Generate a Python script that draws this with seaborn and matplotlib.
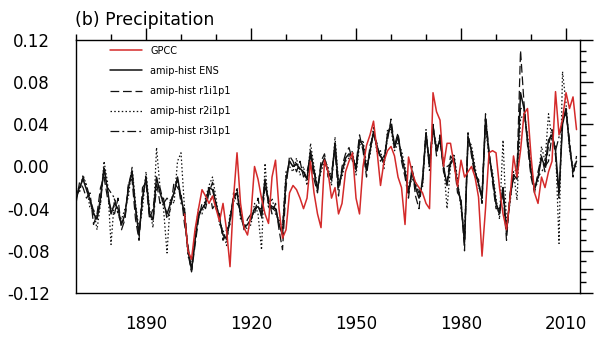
import numpy as np
import pandas as pd
import matplotlib
matplotlib.use("Agg")
import matplotlib.pyplot as plt
import seaborn as sns

# Annual precipitation anomalies (mm/day)
model_years = list(range(1870, 2014))
obs_years = list(range(1901, 2014))

ens = [
    -0.028, -0.020, -0.012, -0.022, -0.032, -0.045, -0.050, -0.030, -0.002, -0.022,
    -0.045, -0.035, -0.040, -0.055, -0.045, -0.020, -0.005, -0.040, -0.065, -0.030,
    -0.010, -0.045, -0.050, -0.010, -0.025, -0.035, -0.045, -0.035, -0.025, -0.010,
    -0.030, -0.045, -0.080, -0.098, -0.070, -0.045, -0.040, -0.035, -0.020, -0.022,
    -0.035, -0.050, -0.065, -0.068, -0.050, -0.030, -0.025, -0.045, -0.058, -0.055,
    -0.050, -0.040, -0.038, -0.045, -0.012, -0.035, -0.038, -0.040, -0.055, -0.065,
    -0.012, 0.005, 0.000, 0.002, -0.002, -0.005, -0.012, 0.015, -0.005, -0.022,
    0.000, 0.008, -0.005, -0.012, 0.022, -0.020, -0.005, 0.008, 0.012, 0.010,
    -0.003, 0.025, 0.020, -0.004, 0.015, 0.033, 0.018, 0.010, 0.004, 0.030,
    0.040, 0.018, 0.028, 0.010, -0.005, -0.025, -0.005, -0.020, -0.030, -0.015,
    0.032, 0.000, 0.038, 0.015, 0.026, 0.000, -0.018, 0.004, 0.008, -0.018,
    -0.035, -0.072, 0.028, 0.015, -0.005, -0.016, -0.030, 0.045, 0.012, -0.010,
    -0.035, -0.045, -0.020, -0.062, -0.030, -0.008, -0.012, 0.070, 0.055, 0.025,
    -0.005, -0.022, -0.010, 0.008, 0.000, 0.025, 0.030, 0.015, -0.025, 0.040,
    0.055, 0.020, -0.005, 0.005,
]

r1 = [
    -0.035, -0.015, -0.020, -0.030, -0.025, -0.055, -0.045, -0.020, -0.010, -0.030,
    -0.040, -0.045, -0.030, -0.060, -0.050, -0.015, -0.012, -0.050, -0.070, -0.020,
    -0.015, -0.050, -0.040, -0.015, -0.035, -0.030, -0.050, -0.040, -0.015, -0.020,
    -0.025, -0.055, -0.075, -0.100, -0.075, -0.050, -0.035, -0.040, -0.025, -0.015,
    -0.040, -0.045, -0.070, -0.060, -0.055, -0.025, -0.035, -0.040, -0.060, -0.050,
    -0.045, -0.045, -0.030, -0.050, -0.020, -0.030, -0.045, -0.035, -0.060, -0.079,
    -0.020, 0.010, 0.005, -0.005, 0.005, -0.010, -0.005, 0.010, -0.012, -0.025,
    0.005, 0.012, -0.010, -0.005, 0.015, -0.028, 0.000, 0.012, 0.018, 0.005,
    0.002, 0.030, 0.015, -0.010, 0.020, 0.030, 0.022, 0.005, 0.010, 0.025,
    0.045, 0.020, 0.032, 0.005, -0.010, -0.030, 0.000, -0.028, -0.040, -0.010,
    0.030, 0.005, 0.040, 0.010, 0.030, -0.005, -0.015, 0.010, 0.005, -0.025,
    -0.030, -0.080, 0.032, 0.010, -0.010, -0.012, -0.035, 0.050, 0.015, -0.015,
    -0.040, -0.040, -0.025, -0.070, -0.025, -0.012, -0.005, 0.110, 0.060, 0.020,
    -0.010, -0.025, -0.005, 0.010, -0.005, 0.020, 0.035, 0.010, -0.030, 0.045,
    0.050, 0.025, -0.010, 0.010,
]

r2 = [
    -0.020, -0.025, -0.008, -0.018, -0.040, -0.040, -0.060, -0.035, 0.005, -0.015,
    -0.074, -0.030, -0.045, -0.050, -0.040, -0.028, 0.000, -0.035, -0.060, -0.040,
    -0.005, -0.040, -0.058, 0.018, -0.020, -0.040, -0.082, -0.030, -0.035, 0.005,
    0.013, -0.040, -0.085, -0.095, -0.065, -0.040, -0.045, -0.030, -0.018, -0.010,
    -0.030, -0.055, -0.060, -0.075, -0.045, -0.035, -0.020, -0.050, -0.055, -0.060,
    -0.055, -0.035, -0.045, -0.079, 0.003, -0.040, -0.030, -0.045, -0.050, -0.060,
    -0.005, 0.000, -0.005, 0.008, -0.008, 0.000, -0.018, 0.022, 0.000, -0.020,
    -0.005, 0.005, 0.000, -0.018, 0.028, -0.015, -0.010, 0.005, 0.008, 0.015,
    -0.008, 0.020, 0.025, 0.002, 0.010, 0.038, 0.012, 0.015, -0.002, 0.035,
    0.035, 0.015, 0.022, 0.015, 0.000, -0.020, -0.012, -0.015, -0.025, -0.020,
    0.035, -0.005, 0.035, 0.020, 0.022, 0.005, -0.040, 0.000, 0.012, -0.012,
    -0.040, -0.065, 0.025, 0.020, 0.000, -0.020, -0.025, 0.040, 0.008, -0.005,
    -0.030, -0.050, 0.025, -0.055, -0.035, -0.005, -0.032, 0.045, 0.050, 0.030,
    0.000, -0.020, -0.015, 0.019, 0.005, 0.050, 0.025, 0.020, -0.073, 0.090,
    0.060, 0.015, 0.000, 0.000,
]

r3 = [
    -0.030, -0.022, -0.010, -0.018, -0.030, -0.042, -0.048, -0.035, 0.000, -0.020,
    -0.025, -0.030, -0.045, -0.055, -0.048, -0.018, -0.003, -0.038, -0.065, -0.030,
    -0.010, -0.045, -0.052, -0.020, -0.020, -0.035, -0.030, -0.035, -0.025, -0.012,
    -0.035, -0.040, -0.082, -0.100, -0.070, -0.048, -0.040, -0.035, -0.020, -0.040,
    -0.035, -0.050, -0.065, -0.070, -0.050, -0.030, -0.022, -0.045, -0.058, -0.055,
    -0.050, -0.040, -0.040, -0.040, -0.015, -0.035, -0.040, -0.040, -0.055, -0.058,
    -0.010, 0.005, 0.000, 0.003, -0.003, -0.005, -0.012, 0.012, -0.003, -0.020,
    0.000, 0.007, -0.005, -0.013, 0.022, -0.018, -0.005, 0.007, 0.010, 0.010,
    -0.002, 0.025, 0.020, -0.004, 0.015, 0.032, 0.020, 0.010, 0.004, 0.030,
    0.040, 0.018, 0.030, 0.010, -0.005, -0.025, -0.003, -0.018, -0.025, -0.015,
    0.030, 0.000, 0.038, 0.015, 0.026, 0.000, 0.000, 0.002, 0.008, -0.018,
    -0.035, -0.070, 0.028, 0.015, -0.005, -0.016, -0.030, 0.045, 0.012, -0.010,
    -0.035, -0.045, -0.020, -0.062, -0.030, -0.008, 0.000, 0.055, 0.055, 0.025,
    -0.005, -0.022, -0.010, -0.005, 0.000, 0.005, 0.030, 0.015, 0.028, 0.040,
    0.055, 0.020, -0.005, 0.005,
]

gpcc = [
    -0.045, -0.080, -0.088, -0.060, -0.040, -0.022, -0.028, -0.035, -0.028,
    -0.040, -0.052, -0.035, -0.060, -0.095, -0.030, 0.013, -0.035, -0.058, -0.065,
    -0.045, 0.000, -0.012, -0.030, -0.045, -0.054, -0.010, 0.006, -0.040, -0.068,
    -0.060, -0.025, -0.018, -0.022, -0.030, -0.040, -0.030, 0.005, -0.025, -0.045,
    -0.058, 0.006, -0.005, -0.030, -0.020, -0.045, -0.035, -0.005, 0.005, 0.013,
    -0.030, -0.045, 0.000, 0.020, 0.030, 0.043, 0.015, -0.018, 0.005, 0.015,
    0.019, 0.010, -0.010, -0.020, -0.055, 0.009, -0.005, -0.015, -0.020, -0.025,
    -0.035, -0.040, 0.070, 0.052, 0.044, 0.000, 0.022, 0.022, 0.002, -0.019,
    0.006, -0.010, -0.005, 0.000, -0.010, -0.029, -0.085, -0.040, 0.013, 0.015,
    0.013, -0.020, -0.045, -0.060, -0.030, 0.010, -0.010, 0.015, 0.050, 0.055,
    0.010, -0.025, -0.035, -0.010, -0.020, -0.005, 0.005, 0.071, 0.030, 0.045,
    0.070, 0.055, 0.066, 0.035,
]

series_labels = ["GPCC", "amip-hist ENS", "amip-hist r1i1p1",
                 "amip-hist r2i1p1", "amip-hist r3i1p1"]
y_ticks = [-0.12, -0.08, -0.04, 0.00, 0.04, 0.08, 0.12]
x_ticks = [1890, 1920, 1950, 1980, 2010]

sns.set_style("white")
plt.rcParams["font.family"] = ["DejaVu Sans"]
plt.rcParams["axes.unicode_minus"] = False
plt.rcParams["text.color"] = "black"

fig = plt.figure(figsize=(6.0, 3.38), dpi=100)
ax = fig.add_axes([0.1267, 0.1331, 0.8400, 0.7486])

black = "#111111"
red = "#d42a2a"
member_styles = [(0, (7, 3)), (0, (1.2, 1.8)), (0, (7, 2.5, 1.5, 2.5))]

for vals, lab, ls in zip([r1, r2, r3], series_labels[2:], member_styles):
    sns.lineplot(x=model_years, y=vals, ax=ax, color=black, lw=0.9,
                 linestyle=ls, label=lab, zorder=2)
sns.lineplot(x=model_years, y=ens, ax=ax, color=black, lw=1.1,
             label=series_labels[1], zorder=3)
sns.lineplot(x=obs_years, y=gpcc, ax=ax, color=red, lw=1.1,
             label=series_labels[0], zorder=4)

h, l = ax.get_legend_handles_labels()
lookup = dict(zip(l, h))
leg = ax.legend([lookup[s] for s in series_labels], series_labels,
                loc="upper left", bbox_to_anchor=(0.0675, 0.978), frameon=False,
                fontsize=7, handlelength=3.3, handletextpad=0.85,
                labelspacing=1.05, borderpad=0, borderaxespad=0)
for t in leg.get_texts():
    t.set_color("black")

ax.set_xlim(1870, 2014)
ax.set_ylim(-0.12, 0.12)
ax.set_xticks(x_ticks)
ax.set_xticks(list(range(1870, 2014, 10)), minor=True)
ax.set_yticks(y_ticks)
ax.set_yticks(np.arange(-0.12, 0.1201, 0.01), minor=True)
ax.set_yticklabels([f"{v:.2f}" for v in y_ticks])
ax.set_xlabel("")
ax.set_ylabel("")

for s in ax.spines.values():
    s.set_visible(True)
    s.set_linewidth(1.0)
    s.set_color("black")
ax.tick_params(which="both", direction="out", top=True, right=True,
               labeltop=False, labelright=False, colors="black",
               labelcolor="black", width=1.0)
ax.tick_params(which="major", length=9, labelsize=12, pad=7)
ax.tick_params(which="minor", length=4.5)
ax.tick_params(axis="y", which="major", pad=10)

ax.set_title("(b) Precipitation", loc="left", fontsize=12.5, pad=11,
             x=-0.003, color="black")

fig.savefig("out.png", dpi=100)
